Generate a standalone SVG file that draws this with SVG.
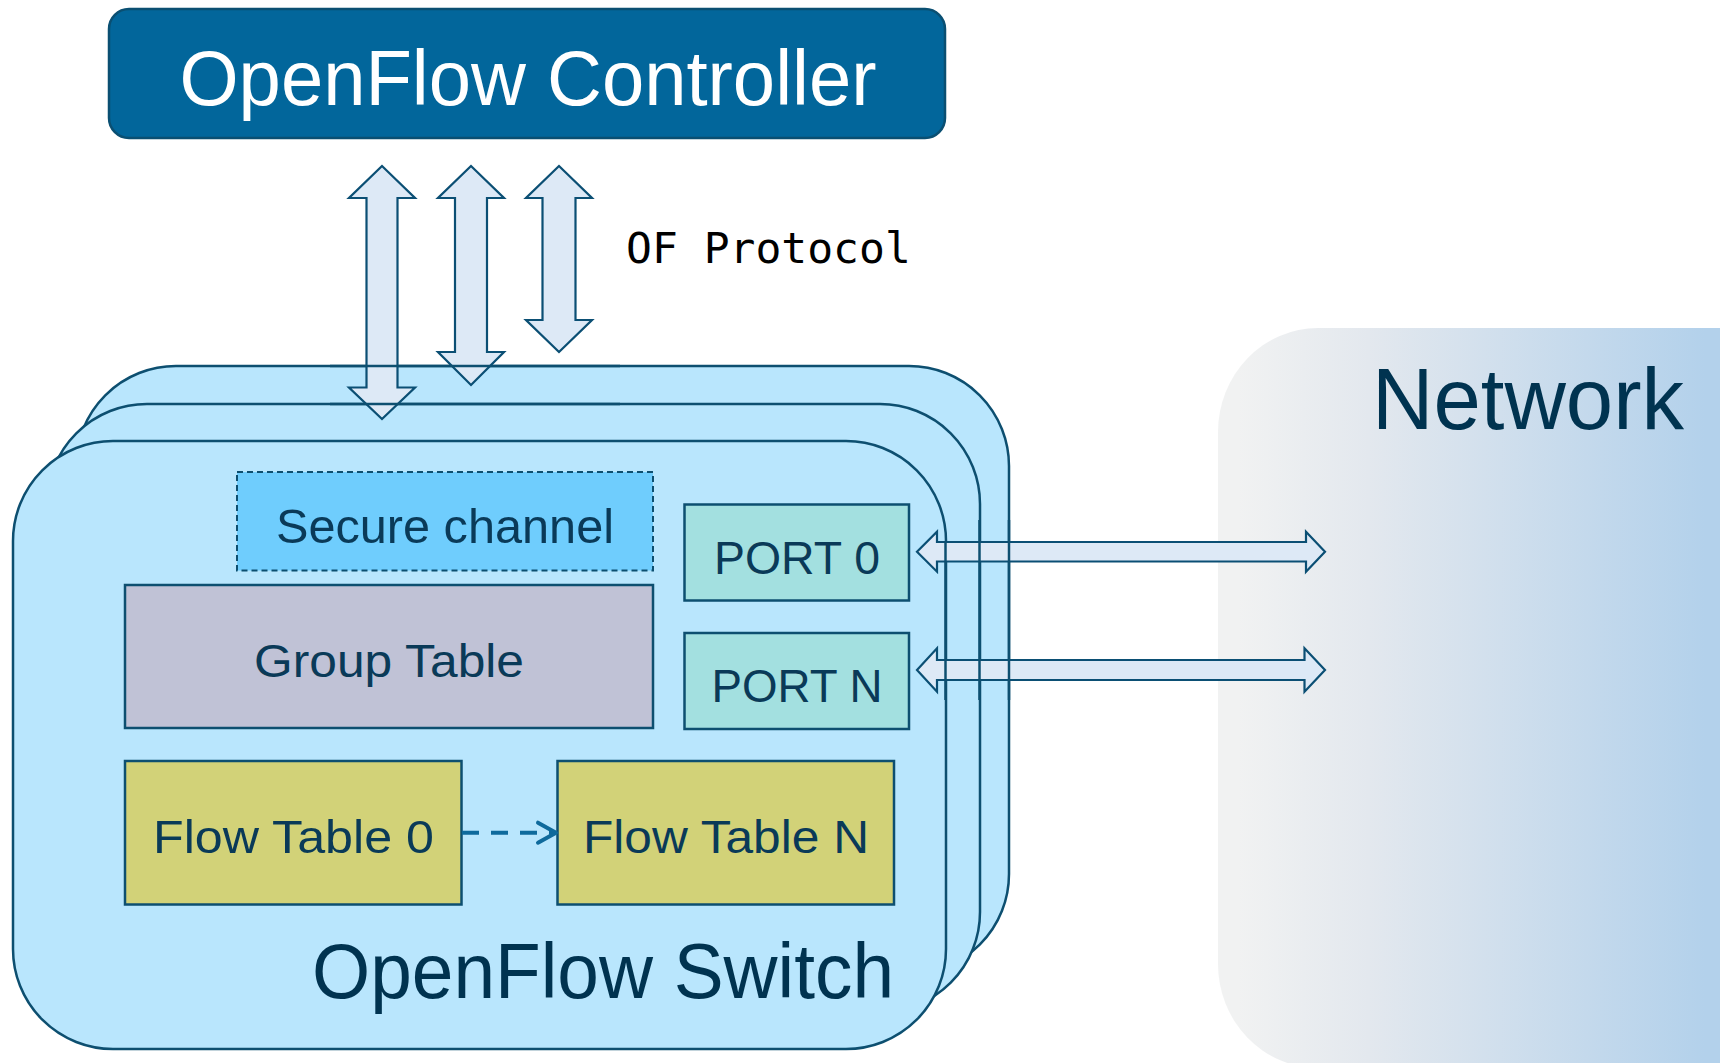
<svg xmlns="http://www.w3.org/2000/svg" width="1720" height="1063" viewBox="0 0 1720 1063">
  <defs>
    <linearGradient id="netGrad" x1="1218" y1="0" x2="1720" y2="0" gradientUnits="userSpaceOnUse">
      <stop offset="0.04" stop-color="#f1f2f2"/>
      <stop offset="0.3" stop-color="#e3e8ee"/>
      <stop offset="0.97" stop-color="#b3d1eb"/>
    </linearGradient>
    <style>
      .sw { fill: #b9e6fd; stroke: #0d4f70; stroke-width: 2.5; }
      .edge { stroke: #0d4f70; stroke-width: 2.5; fill: none; }
      .box { stroke: #0d4f70; stroke-width: 2.5; }
      .lbl { font-family: "Liberation Sans", Arial, sans-serif; fill: #0a3a58; text-anchor: middle; }
      .big { font-family: "Liberation Sans", Arial, sans-serif; fill: #003350; }
      .fat { fill: #dde9f6; stroke: #0b4f74; stroke-width: 2.2; stroke-linejoin: miter; }
    </style>
  </defs>

  <!-- network cloud panel -->
  <g id="network">
    <rect x="1218" y="328" width="620" height="740" rx="100" ry="104" fill="url(#netGrad)"/>
    <text class="big" x="1372" y="429" font-size="88" textLength="312" lengthAdjust="spacingAndGlyphs">Network</text>
  </g>

  <!-- controller -->
  <g id="controller">
    <rect x="109" y="9" width="836" height="129" rx="20" fill="#02669b" stroke="#0a4f72" stroke-width="2.5"/>
    <text x="528" y="105" font-family="Liberation Sans, Arial, sans-serif" font-size="77" fill="#ffffff" text-anchor="middle" textLength="697" lengthAdjust="spacingAndGlyphs">OpenFlow Controller</text>
  </g>

  <!-- stacked switch instances -->
  <g id="switch">
    <rect class="sw" x="76" y="366" width="933" height="608" rx="100"/>
    <rect class="sw" x="47" y="404" width="933" height="608" rx="100"/>
    <rect class="sw" x="13" y="441" width="933" height="608" rx="100"/>
  </g>

  <g id="secure-channel">
    <rect x="237" y="472" width="416" height="98.5" fill="#6fcdfd" stroke="#0d4f70" stroke-width="2" stroke-dasharray="6 4"/>
    <text class="lbl" x="445" y="542.7" font-size="48" textLength="338" lengthAdjust="spacingAndGlyphs">Secure channel</text>
  </g>

  <g id="group-table">
    <rect class="box" x="125" y="585" width="528" height="143" fill="#c0c2d6"/>
    <text class="lbl" x="389" y="676.7" font-size="46" textLength="270" lengthAdjust="spacingAndGlyphs">Group Table</text>
  </g>

  <g id="port-0">
    <rect class="box" x="684.5" y="504.5" width="224.5" height="96" fill="#a3e0e0"/>
    <text class="lbl" x="797" y="574" font-size="47" textLength="166" lengthAdjust="spacingAndGlyphs">PORT 0</text>
  </g>

  <g id="port-n">
    <rect class="box" x="684.5" y="633" width="224.5" height="96" fill="#a3e0e0"/>
    <text class="lbl" x="797" y="701.7" font-size="47" textLength="171" lengthAdjust="spacingAndGlyphs">PORT N</text>
  </g>

  <g id="flow-table-0">
    <rect class="box" x="125" y="761" width="336.5" height="143.5" fill="#d2d278"/>
    <text class="lbl" x="293.5" y="853.3" font-size="46" textLength="281" lengthAdjust="spacingAndGlyphs">Flow Table 0</text>
  </g>

  <g id="flow-table-n">
    <rect class="box" x="557.5" y="761" width="336.5" height="143.5" fill="#d2d278"/>
    <text class="lbl" x="726" y="853.3" font-size="46" textLength="286" lengthAdjust="spacingAndGlyphs">Flow Table N</text>
  </g>

  <!-- connectors -->
  <g id="connectors">
    <!-- controller channels -->
    <path class="fat" d="M382,166 L415,198 L397.5,198 L397.5,387.5 L415,387.5 L382,419 L349,387.5 L366.5,387.5 L366.5,198 L349,198 Z"/>
    <path class="fat" d="M471,166 L504,198 L487,198 L487,352 L504,352 L471,385 L438,352 L455,352 L455,198 L438,198 Z"/>
    <path class="fat" d="M559,166 L592,198 L575.5,198 L575.5,320 L592,320 L559,352 L526,320 L542.5,320 L542.5,198 L526,198 Z"/>
    <!-- port links -->
    <path class="fat" d="M917,551.7 L937,531.7 L937,542 L1306,542 L1306,531.7 L1325,551.7 L1306,571.7 L1306,561.5 L937,561.5 L937,571.7 Z"/>
    <path class="fat" d="M917,670 L937,648.3 L937,660 L1304.5,660 L1304.5,648.3 L1325,670 L1304.5,691.7 L1304.5,680 L937,680 L937,691.7 Z"/>
    <!-- table pipeline -->
    <line x1="462" y1="832.7" x2="553" y2="832.7" stroke="#0e6a9c" stroke-width="4" stroke-dasharray="17 12"/>
    <path d="M538,822.7 L556,832.7 L538,842.7" fill="none" stroke="#0e6a9c" stroke-width="4" stroke-linecap="round" stroke-linejoin="round"/>
  </g>

  <!-- outline segments of the stacked frames that run over the links -->
  <g id="switch-stack-edges">
    <line class="edge" x1="330" y1="366" x2="620" y2="366"/>
    <line class="edge" x1="330" y1="404" x2="620" y2="404"/>
    <line class="edge" x1="945.5" y1="541" x2="945.5" y2="700"/>
    <line class="edge" x1="979.5" y1="520" x2="979.5" y2="700"/>
    <line class="edge" x1="1009" y1="520" x2="1009" y2="700"/>
  </g>

  <text id="of-protocol" x="626" y="263" font-family="DejaVu Sans Mono, Liberation Mono, monospace" font-size="43" fill="#000000">OF Protocol</text>
  <text id="switch-label" class="big" x="312" y="997.7" font-size="77" textLength="582" lengthAdjust="spacingAndGlyphs">OpenFlow Switch</text>
</svg>
